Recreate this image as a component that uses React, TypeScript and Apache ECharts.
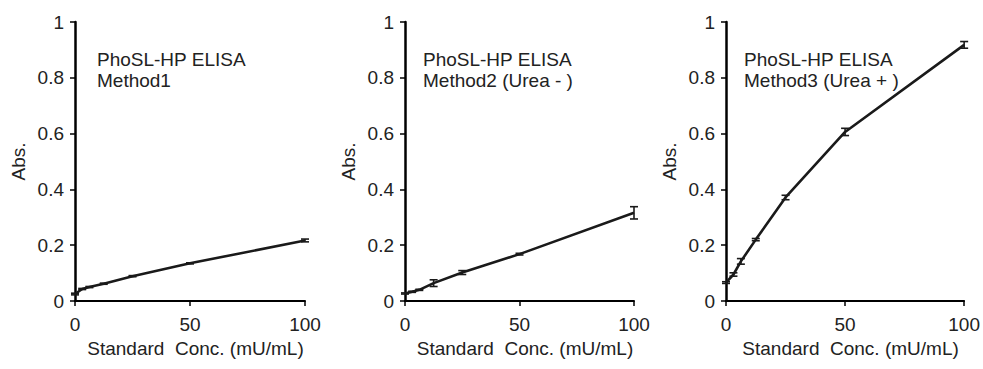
import React, { useEffect, useRef } from "react";
import * as echarts from "echarts";

const conc = [0, 3.125, 6.25, 12.5, 25, 50, 100];
const method1 = [0.025, 0.043, 0.05, 0.062, 0.089, 0.135, 0.217];
const method1Err = [0.003, 0.002, 0.002, 0.002, 0.002, 0.002, 0.005];
const method2 = [0.027, 0.033, 0.04, 0.064, 0.102, 0.168, 0.316];
const method2Err = [0.002, 0.002, 0.002, 0.012, 0.007, 0.003, 0.022];
const method3 = [0.066, 0.095, 0.142, 0.22, 0.371, 0.606, 0.918];
const method3Err = [0.003, 0.006, 0.01, 0.004, 0.008, 0.013, 0.012];
const titleLine1 = ["PhoSL-HP ELISA", "PhoSL-HP ELISA", "PhoSL-HP ELISA"];
const titleLine2 = ["Method1", "Method2 (Urea - )", "Method3 (Urea + )"];
const yTicks = [0, 0.2, 0.4, 0.6, 0.8, 1];
const xTicks = [0, 50, 100];

const FONT = "'Liberation Sans', Arial, sans-serif";
const INK = "#1a1a1a";
const FS = 19;

export default function App() {
  const ref = useRef<HTMLDivElement>(null);
  useEffect(() => {
    if (!ref.current) return;
    const chart = echarts.init(ref.current, undefined, { renderer: "svg" });
    const grids = [
      { left: 75, top: 22, width: 230, height: 279 },
      { left: 405, top: 22, width: 229, height: 279 },
      { left: 726, top: 22, width: 241, height: 279 },
    ];
    const textX = [97, 423, 744];
    const values = [method1, method2, method3];
    const errs = [method1Err, method2Err, method3Err];

    const axisLabelStyle = { color: "#222", fontSize: FS, fontFamily: FONT };
    const xAxis = grids.map((_, i) => ({
      type: "value",
      gridIndex: i,
      min: 0,
      max: 100,
      interval: 50,
      axisLine: { show: true, onZero: false, lineStyle: { color: "#000", width: 2 } },
      axisTick: { show: true, length: 5, lineStyle: { color: "#000", width: 1.5 } },
      axisLabel: { ...axisLabelStyle, margin: 14, formatter: (v: number) => (xTicks.includes(v) ? String(v) : "") },
      splitLine: { show: false },
      name: "Standard  Conc. (mU/mL)",
      nameLocation: "middle",
      nameGap: 37,
      nameTextStyle: { color: "#222", fontSize: FS, fontFamily: FONT, padding: [0, 0, 0, 11] },
    }));
    const yAxis = grids.map((_, i) => ({
      type: "value",
      gridIndex: i,
      min: 0,
      max: 1,
      interval: 0.2,
      axisLine: { show: true, onZero: false, lineStyle: { color: "#000", width: 2.5 } },
      axisTick: { show: true, length: 5, lineStyle: { color: "#000", width: 1.5 } },
      axisLabel: {
        ...axisLabelStyle,
        margin: 11,
        formatter: (v: number) => {
          const t = yTicks.find((k) => Math.abs(k - v) < 1e-9);
          return t === undefined ? "" : String(Math.round(t * 10) / 10);
        },
      },
      splitLine: { show: false },
      name: "Abs.",
      nameLocation: "middle",
      nameGap: 47,
      nameTextStyle: { color: "#222", fontSize: FS, fontFamily: FONT },
    }));

    const series: any[] = [];
    values.forEach((vals, i) => {
      series.push({
        type: "line",
        xAxisIndex: i,
        yAxisIndex: i,
        data: conc.map((c, j) => [c, vals[j]]),
        showSymbol: false,
        symbol: "none",
        lineStyle: { color: INK, width: 2.6 },
        z: 3,
      });
      series.push({
        type: "custom",
        xAxisIndex: i,
        yAxisIndex: i,
        data: conc.map((c, j) => [c, vals[j] - errs[i][j], vals[j] + errs[i][j]]),
        renderItem: (params: any, api: any) => {
          const x = api.value(0);
          const lo = api.coord([x, api.value(1)]);
          const hi = api.coord([x, api.value(2)]);
          const hw = 4;
          const style = { stroke: INK, lineWidth: 1.6 };
          return {
            type: "group",
            children: [
              { type: "line", shape: { x1: lo[0], y1: lo[1], x2: hi[0], y2: hi[1] }, style },
              { type: "line", shape: { x1: lo[0] - hw, y1: lo[1], x2: lo[0] + hw, y2: lo[1] }, style },
              { type: "line", shape: { x1: hi[0] - hw, y1: hi[1], x2: hi[0] + hw, y2: hi[1] }, style },
            ],
          };
        },
        z: 4,
      });
    });

    const graphic: any[] = [];
    textX.forEach((x, i) => {
      graphic.push({
        type: "text",
        left: x,
        top: 50,
        style: { text: titleLine1[i], fill: "#222", font: `${FS}px ${FONT}` },
      });
      graphic.push({
        type: "text",
        left: x,
        top: 71,
        style: { text: titleLine2[i], fill: "#222", font: `${FS}px ${FONT}` },
      });
    });

    chart.setOption({
      animation: false,
      backgroundColor: "#fff",
      grid: grids,
      xAxis,
      yAxis,
      series,
      graphic,
    });
    return () => chart.dispose();
  }, []);
  return <div ref={ref} style={{ position: "absolute", left: 0, top: 0, width: 983, height: 369 }} />;
}
